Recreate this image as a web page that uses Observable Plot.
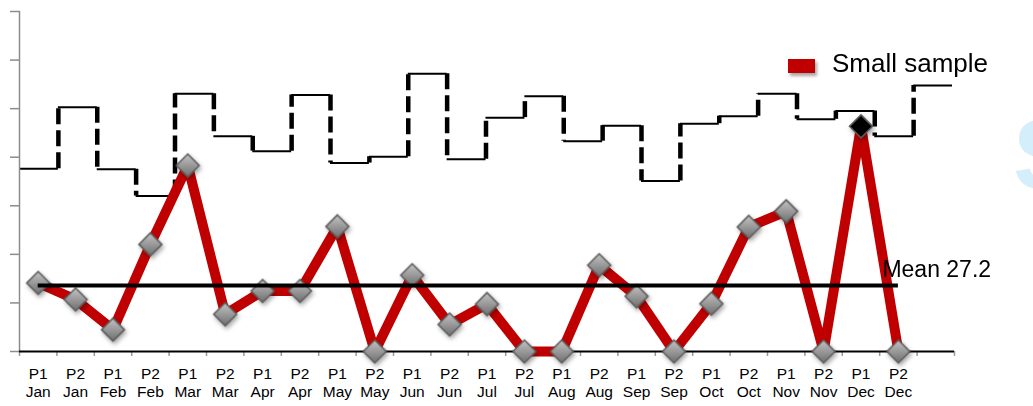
<!DOCTYPE html>
<html>
<head>
<meta charset="utf-8">
<script src="https://cdn.jsdelivr.net/npm/d3@7"></script>
<script src="https://cdn.jsdelivr.net/npm/@observablehq/plot@0.6"></script>
<style>
  html, body { margin: 0; padding: 0; background: #fff; overflow: hidden; }
  #wrap { position: relative; width: 1033px; height: 406px; overflow: hidden;
          font-family: "Liberation Sans", Arial, sans-serif; color: #000; }
  #wrap svg { position: absolute; left: 0; top: 0; overflow: visible; }
  .legend { position: absolute; left: 788px; top: 50px; font-size: 26px; line-height: 26px; white-space: nowrap; }
  .legend .sw { position: absolute; left: 0; top: 9px; width: 27px; height: 14px; background: #c00000;
                box-shadow: 2px 3px 3px rgba(0,0,0,0.35); }
  .legend .lbl { position: absolute; left: 44px; top: 0; }
  .mark { position: absolute; left: 1013px; top: 104px; font-size: 100px; line-height: 100px; font-weight: bold; color: #d4eefb; }
</style>
</head>
<body>
<div id="wrap"></div>
<script>
// ---- data ----
const halves = ["P1","P2","P1","P2","P1","P2","P1","P2","P1","P2","P1","P2",
                "P1","P2","P1","P2","P1","P2","P1","P2","P1","P2","P1","P2"];
const months = ["Jan","Jan","Feb","Feb","Mar","Mar","Apr","Apr","May","May","Jun","Jun",
                "Jul","Jul","Aug","Aug","Sep","Sep","Oct","Oct","Nov","Nov","Dec","Dec"];
const counts = [28.2, 21.4, 9.0, 44.1, 76.6, 15.3, 24.9, 24.9, 51.5, 0, 31.4, 11.1,
                19.5, 0, 0, 35.5, 22.7, 0, 19.7, 51.3, 57.7, 0, 92.7, 0];
const upperLimit = [75.3, 100.6, 75.0, 64.0, 106.1, 88.6, 82.5, 105.6, 77.6, 80.2, 114.4, 79.2,
                    96.3, 105.1, 86.6, 93.0, 70.2, 93.8, 96.9, 106.1, 95.6, 99.0, 88.6, 109.5];
const meanValue = 27.2;
const highlighted = ["P1 Dec"];
const seriesName = "Small sample";
const yTicks = [0, 20, 40, 60, 80, 100, 120, 140];

// ---- derived tables ----
const n = halves.length;
const rows = halves.map((h, i) => ({
  pos: i + 0.5,
  key: h + " " + months[i],
  label: h + "\n" + months[i],
  value: counts[i]
}));
const normalRows = rows.filter(d => !highlighted.includes(d.key));
const hiRows = rows.filter(d => highlighted.includes(d.key));
const bandEdges = d3.range(n + 2);

const stepRows = upperLimit.map((v, i) => ({i, v}));
const jumps = upperLimit.slice(1).map((v, i) => ({x: i + 1, from: upperLimit[i], to: v}));

const diamond = {
  draw(ctx, size) {
    const r = Math.sqrt(size / Math.PI);
    ctx.moveTo(0, -r); ctx.lineTo(r, 0); ctx.lineTo(0, r); ctx.lineTo(-r, 0); ctx.closePath();
  }
};

const font = "'Liberation Sans', Arial, sans-serif";

// ---- step (control limit) layer ----
const stepPlot = Plot.plot({
  width: 1033, height: 406,
  marginLeft: 19, marginRight: 81, marginTop: 11, marginBottom: 55,
  style: {background: "transparent", fontFamily: font},
  x: {domain: [0, n], axis: null, label: null},
  y: {domain: [0, 140], axis: null, label: null},
  marks: [
    Plot.ruleY(stepRows, {x1: "i", x2: d => d.i + 1, y: "v", stroke: "#000", strokeWidth: 2}),
    Plot.ruleX(jumps, {x: "x", y1: "from", y2: "to", stroke: "#000", strokeWidth: 4.5, strokeDasharray: "16,6"})
  ]
});

// ---- main layer ----
const mainPlot = Plot.plot({
  width: 1033, height: 406,
  marginLeft: 19, marginRight: 79, marginTop: 11, marginBottom: 55,
  style: {background: "transparent", fontFamily: font, color: "#000"},
  x: {type: "linear", domain: [0, n + 1], label: null},
  y: {domain: [0, 140], label: null},
  marks: [
    Plot.axisY({ticks: yTicks, tickFormat: () => "", tickSize: 9, stroke: "#8c8c8c", strokeWidth: 1.5, label: null}),
    Plot.frame({anchor: "left", stroke: "#8c8c8c", strokeWidth: 1.5}),
    Plot.axisX({ticks: bandEdges, tickFormat: () => "", tickSize: 5, stroke: "#9a9a9a", strokeWidth: 1.5, label: null}),
    Plot.ruleY([0], {stroke: "#000", strokeWidth: 2}),
    Plot.text(rows, {x: "pos", y: 0, text: "label", lineAnchor: "top", dy: 14, lineHeight: 1.2,
                     fontSize: 15.5, fill: "#000"}),
    Plot.line(rows, {x: "pos", y: "value", stroke: "#c00000", strokeWidth: 10, strokeLinejoin: "miter"}),
    Plot.dot(normalRows, {x: "pos", y: "value", symbol: diamond, r: 11.5, fill: "url(#dgrad)",
                          stroke: "#5a5a5a", strokeWidth: 1.5}),
    Plot.dot(hiRows, {x: "pos", y: "value", symbol: diamond, r: 11.5, fill: "#000",
                      stroke: "#5a5a5a", strokeWidth: 1.5}),
    Plot.ruleY([meanValue], {x1: rows[0].pos, x2: rows[n - 1].pos, stroke: "#000", strokeWidth: 4}),
    Plot.text([meanValue], {x: rows[n - 1].pos, y: d => d, text: d => `Mean ${d}`, textAnchor: "start",
                            lineAnchor: "bottom", dx: -16, dy: -8, fontSize: 23, fill: "#000"})
  ]
});

// gradient + shadow for the diamonds
d3.select(mainPlot).insert("defs", ":first-child").html(`
  <linearGradient id="dgrad" x1="0" y1="0" x2="0" y2="1">
    <stop offset="0" stop-color="#c4c4c4"/>
    <stop offset="1" stop-color="#6e6e6e"/>
  </linearGradient>
  <filter id="dshadow" x="-50%" y="-50%" width="200%" height="200%">
    <feDropShadow dx="1.5" dy="2.5" stdDeviation="2" flood-color="#000" flood-opacity="0.35"/>
  </filter>`);
d3.select(mainPlot).selectAll('g[aria-label="dot"]').attr("filter", "url(#dshadow)");

const wrap = document.getElementById("wrap");
wrap.appendChild(stepPlot);
wrap.appendChild(mainPlot);

// legend
const legend = document.createElement("div");
legend.className = "legend";
legend.innerHTML = `<span class="sw"></span><span class="lbl"></span>`;
legend.querySelector(".lbl").textContent = seriesName;
wrap.appendChild(legend);

// cut-off watermark letter at the right edge (as in the reference)
const mark = document.createElement("div");
mark.className = "mark";
mark.textContent = "S";
wrap.appendChild(mark);
</script>
</body>
</html>
